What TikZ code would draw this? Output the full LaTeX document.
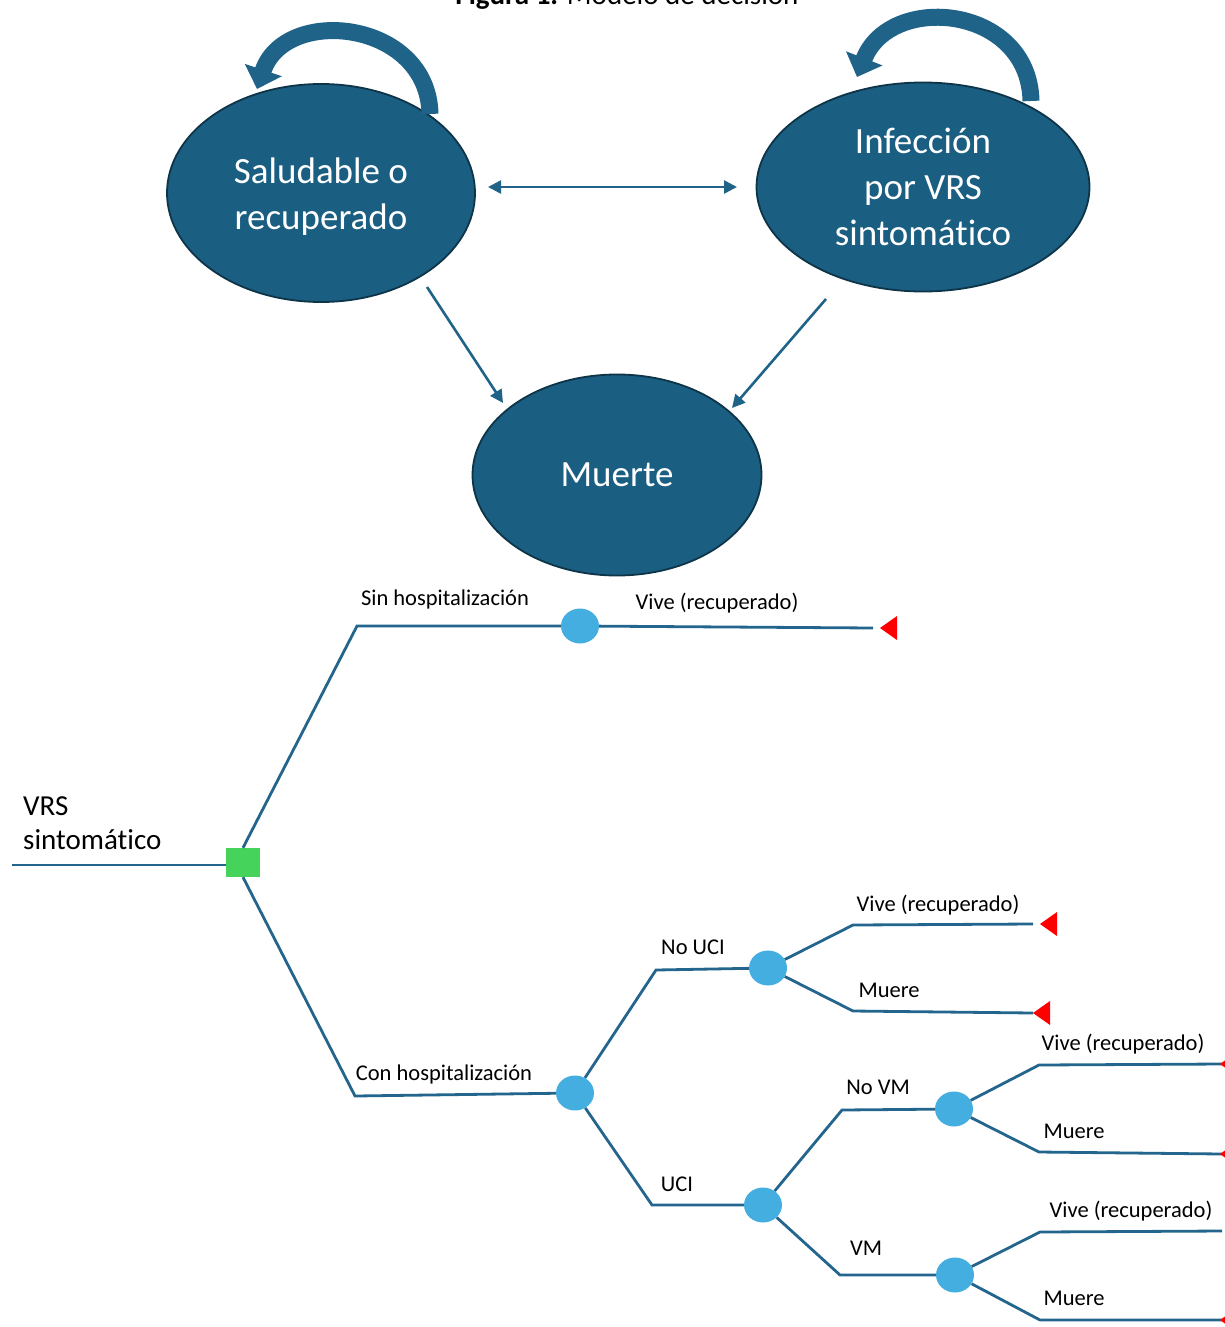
\documentclass[tikz,border=0pt]{standalone}
\usepackage{fontspec}
\setmainfont{Carlito}[Ligatures={NoCommon}]
\usetikzlibrary{shapes.geometric,arrows.meta}
\definecolor{ellfill}{HTML}{1A5E82}
\definecolor{elldraw}{HTML}{0E3448}
\definecolor{arrcol}{HTML}{1F6488}
\definecolor{treeline}{HTML}{23658C}
\definecolor{chance}{HTML}{45AEE0}
\definecolor{decision}{HTML}{45D35C}
\definecolor{termred}{HTML}{FF0000}
\tikzset{
  state/.style={ellipse, fill=ellfill, draw=elldraw, line width=1.8pt, inner sep=0pt,
    text=white, align=center, font=\fontsize{37}{46}\selectfont},
  statetext/.style={text=white, align=center, font=\fontsize{37}{46}\selectfont, inner sep=0pt},
  loop arrow/.style={draw=arrcol, line width=17pt, -{Triangle[width=38pt,length=20pt]}},
  trans/.style={draw=arrcol, line width=2.6pt, -{Triangle[width=13pt,length=13pt]}},
  trans2/.style={draw=arrcol, line width=2.6pt, {Triangle[width=13pt,length=13pt]}-{Triangle[width=13pt,length=13pt]}},
  branch/.style={draw=treeline, line width=2.8pt},
  chancenode/.style={ellipse, fill=chance, inner sep=0pt, minimum width=38pt, minimum height=35pt},
  decnode/.style={rectangle, fill=decision, inner sep=0pt, minimum width=34pt, minimum height=29pt},
  lbl/.style={anchor=base, font=\fontsize{22.5}{27}\selectfont, inner sep=0pt},
}
\newcommand\termtri[1]{\fill[termred] (#1) -- ++(17,-12) -- ++(0,24) -- cycle;}
\begin{document}
\begin{tikzpicture}[x=1pt,y=-1pt]
\useasboundingbox (0,0) rectangle (1225,1327);
% title (partly cut at top, as in the reference)
\node[anchor=base, inner sep=0pt, font=\fontsize{29}{34}\selectfont] (title) at (627,5) {\textbf{Figura 1.} Modelo de decisión};

% Markov states
\node[state, minimum width=308pt, minimum height=218pt,
  label={[statetext, yshift=-4pt]center:{Saludable o\\recuperado}}] (sal) at (321,193) {};
\node[state, minimum width=333pt, minimum height=209pt] (inf) at (923,187) {Infección\\por VRS\\sintomático};
\node[state, minimum width=289pt, minimum height=201pt] (mue) at (617,475) {Muerte};

% self loops
\coordinate (sl0) at (430,114);
\coordinate (sl1) at (257,89);
\draw[loop arrow] (sl0) .. controls (428,20) and (285,5) .. (sl1);
\coordinate (il0) at (1031,101);
\coordinate (il1) at (857,77);
\draw[loop arrow] (il0) .. controls (1029,5) and (890,-8) .. (il1);

% transitions
\coordinate (d0) at (488,187);
\coordinate (d1) at (737,187);
\draw[trans2] (d0) -- (d1);
\coordinate (a0) at (427,287);
\coordinate (a1) at (503,403);
\draw[trans] (a0) -- (a1);
\coordinate (b0) at (826,299);
\coordinate (b1) at (732,408);
\draw[trans] (b0) -- (b1);

% ---------- decision tree ----------
\node[lbl, anchor=base west, font=\fontsize{29}{35}\selectfont] (vrs1) at (23,815) {VRS};
\node[lbl, anchor=base west, font=\fontsize{29}{35}\selectfont] (vrs2) at (23,849) {sintomático};
\coordinate (r0) at (12,865);
\node[decnode] (sq) at (243,862.5) {};
\draw[branch] (r0) -- (sq.west |- r0);

\node[chancenode] (c1) at (580,626) {};
\node[chancenode] (c2) at (575,1093) {};
\node[chancenode] (c3) at (768,968) {};
\node[chancenode] (c4) at (763,1205) {};
\node[chancenode] (c5) at (954,1109) {};
\node[chancenode] (c6) at (955,1275) {};

\coordinate (k1) at (357,626);
\coordinate (k2) at (355,1096);
\coordinate (k3) at (656,970);
\coordinate (k4) at (652,1205);
\coordinate (k5) at (853,925);
\coordinate (k6) at (853,1011);
\coordinate (k7) at (842,1110);
\coordinate (k8) at (840,1275);
\coordinate (k9) at (1039,1065);
\coordinate (k10) at (1039,1152);
\coordinate (k11) at (1040,1232);
\coordinate (k12) at (1040,1320);

\coordinate (e0) at (873,628);
\coordinate (e1) at (1033,924);
\coordinate (e2) at (1033,1013);
\coordinate (e3) at (1222,1064);
\coordinate (e4) at (1222,1154);
\coordinate (e5) at (1222,1231);
\coordinate (e6) at (1222,1320);

\draw[branch] (sq.north) -- (k1) -- (c1);
\draw[branch] (c1) -- (e0);
\draw[branch] (sq.south) -- (k2) -- (c2);
\draw[branch] (c2) -- (k3) -- (c3);
\draw[branch] (c2) -- (k4) -- (c4);
\draw[branch] (c3) -- (k5) -- (e1);
\draw[branch] (c3) -- (k6) -- (e2);
\draw[branch] (c4) -- (k7) -- (c5);
\draw[branch] (c4) -- (k8) -- (c6);
\draw[branch] (c5) -- (k9) -- (e3);
\draw[branch] (c5) -- (k10) -- (e4);
\draw[branch] (c6) -- (k11) -- (e5);
\draw[branch] (c6) -- (k12) -- (e6);

\coordinate (t0) at (880,628);
\coordinate (t1) at (1040,924);
\coordinate (t2) at (1033,1013);
\coordinate (t3) at (1220,1064);
\coordinate (t4) at (1220,1154);
\coordinate (t6) at (1220,1320);
\termtri{t0}
\termtri{t1}
\termtri{t2}
\termtri{t3}
\termtri{t4}
\termtri{t6}

% labels
\node[lbl] (l1) at (445,605) {Sin hospitalización};
\node[lbl] (l2) at (717,609) {Vive (recuperado)};
\node[lbl] (l3) at (444,1080) {Con hospitalización};
\node[lbl] (l4) at (693,954) {No UCI};
\node[lbl] (l5) at (938,911) {Vive (recuperado)};
\node[lbl] (l6) at (889,997) {Muere};
\node[lbl] (l7) at (677,1191) {UCI};
\node[lbl] (l8) at (878,1094) {No VM};
\node[lbl] (l9) at (1123,1050) {Vive (recuperado)};
\node[lbl] (l10) at (1074,1138) {Muere};
\node[lbl] (l11) at (866,1255) {VM};
\node[lbl] (l12) at (1131,1217) {Vive (recuperado)};
\node[lbl] (l13) at (1074,1305) {Muere};
\end{tikzpicture}
\end{document}
